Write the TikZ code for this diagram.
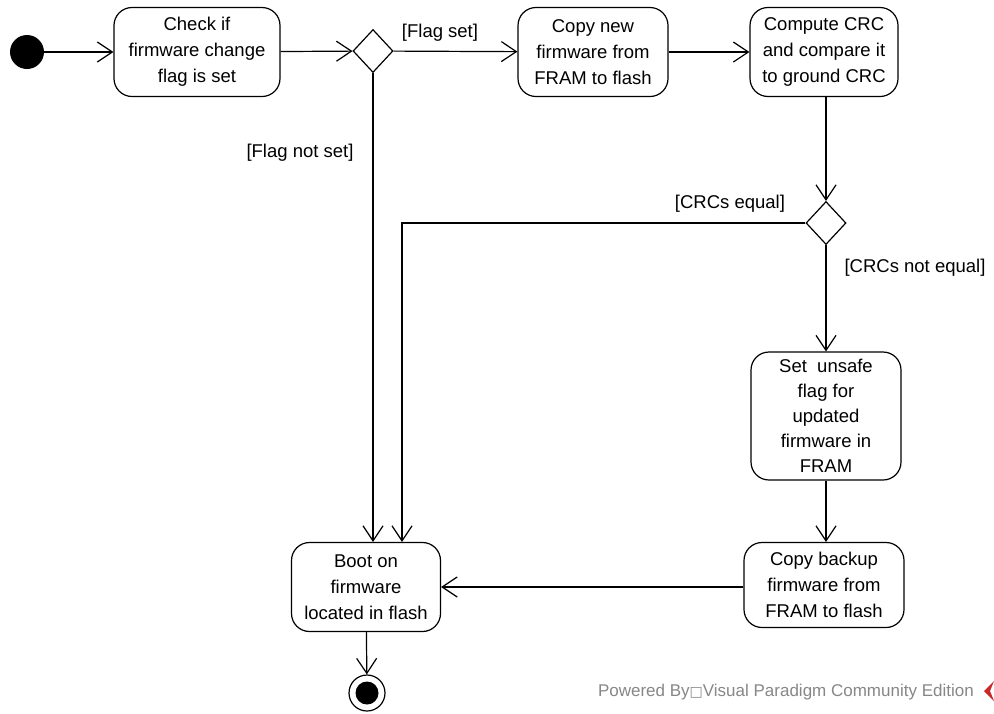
\documentclass[tikz,border=0pt]{standalone}
\usepackage{fontspec}
\setmainfont{Liberation Sans}
\newfontfamily\symfont{DejaVu Sans}
\usetikzlibrary{arrows.meta,shapes.geometric}
\definecolor{wmgray}{RGB}{135,135,135}
\definecolor{wmred}{RGB}{200,40,40}
\begin{document}
\begin{tikzpicture}[x=1pt,y=-1pt,
  act/.style={draw, line width=1.2pt, rounded corners=18pt, align=center, inner sep=0pt,
    font=\fontsize{18.5}{26}\selectfont},
  dec/.style={draw, diamond, line width=1.2pt, minimum width=40pt, minimum height=43pt, inner sep=0pt},
  arr/.style={line width=1.2pt, -{Straight Barb[length=15pt,width=20pt,line width=1.2pt]}},
  lbl/.style={font=\fontsize{18.5}{22}\selectfont, inner sep=0pt}
]
\useasboundingbox (0,0) rectangle (994,713);
\fill[white] (0,0) rectangle (994,713);

\node[circle, fill=black, minimum size=34pt, inner sep=0pt] (init) at (27,52) {};
\node[act, minimum width=166pt, minimum height=89pt] (check) at (197,52) {\raisebox{0pt}{}Check if\\firmware change\\flag is set};
\node[dec] (d1) at (373,51) {};
\node[act, minimum width=150pt, minimum height=89pt] (copy) at (593,52) {Copy new\\firmware from\\FRAM to flash};
\node[act, minimum width=148pt, minimum height=89pt] (compute) at (824,52) {Compute CRC\\and compare it\\to ground CRC};
\node[dec] (d2) at (826,223) {};
\node[act, minimum width=150pt, minimum height=128pt, font=\fontsize{18.5}{25}\selectfont] (set) at (826,416) {Set\ \ unsafe\\flag for\\updated\\firmware in\\FRAM};
\node[act, minimum width=160pt, minimum height=85pt] (backup) at (824,585) {Copy backup\\firmware from\\FRAM to flash};
\node[act, minimum width=149pt, minimum height=89pt] (boot) at (366,587) {Boot on\\firmware\\located in flash};
\node[circle, draw, line width=1.2pt, minimum size=36pt, inner sep=0pt] (final) at (367,693) {};
\fill (final) circle (11.5pt);

\coordinate (c1) at (402,223);

\draw[arr] (init) -- (check);
\draw[arr] (check) -- (d1);
\draw[arr] (d1) -- (copy);
\draw[arr] (copy) -- (compute);
\draw[arr] (d2 |- compute.south) -- (d2.north);
\draw[arr] (d2.west) -- (c1) -- (c1 |- boot.north);
\draw[arr] (d1.south) -- (d1.south |- boot.north);
\draw[arr] (d2.south) -- (d2.south |- set.north);
\draw[arr] (set.south) -- (set.south |- backup.north);
\draw[arr] (backup.west |- boot.east) -- (boot.east);
\draw[arr] (boot) -- (final);

\node[lbl] (l1) at (440,33) {[Flag set]};
\node[lbl] (l2) at (300,153) {[Flag not set]};
\node[lbl] (l3) at (730,204) {[CRCs equal]};
\node[lbl] (l4) at (915,268) {[CRCs not equal]};

\node[anchor=east, text=wmgray, font=\fontsize{17}{20}\selectfont, inner sep=0pt] (wm) at (974,692) {Powered By{\symfont\fontsize{14}{16}\selectfont □}Visual Paradigm Community Edition};
\fill[wmred] (994,681) -- (984,691) -- (994,701) -- (990,691) -- cycle;
\end{tikzpicture}
\end{document}
